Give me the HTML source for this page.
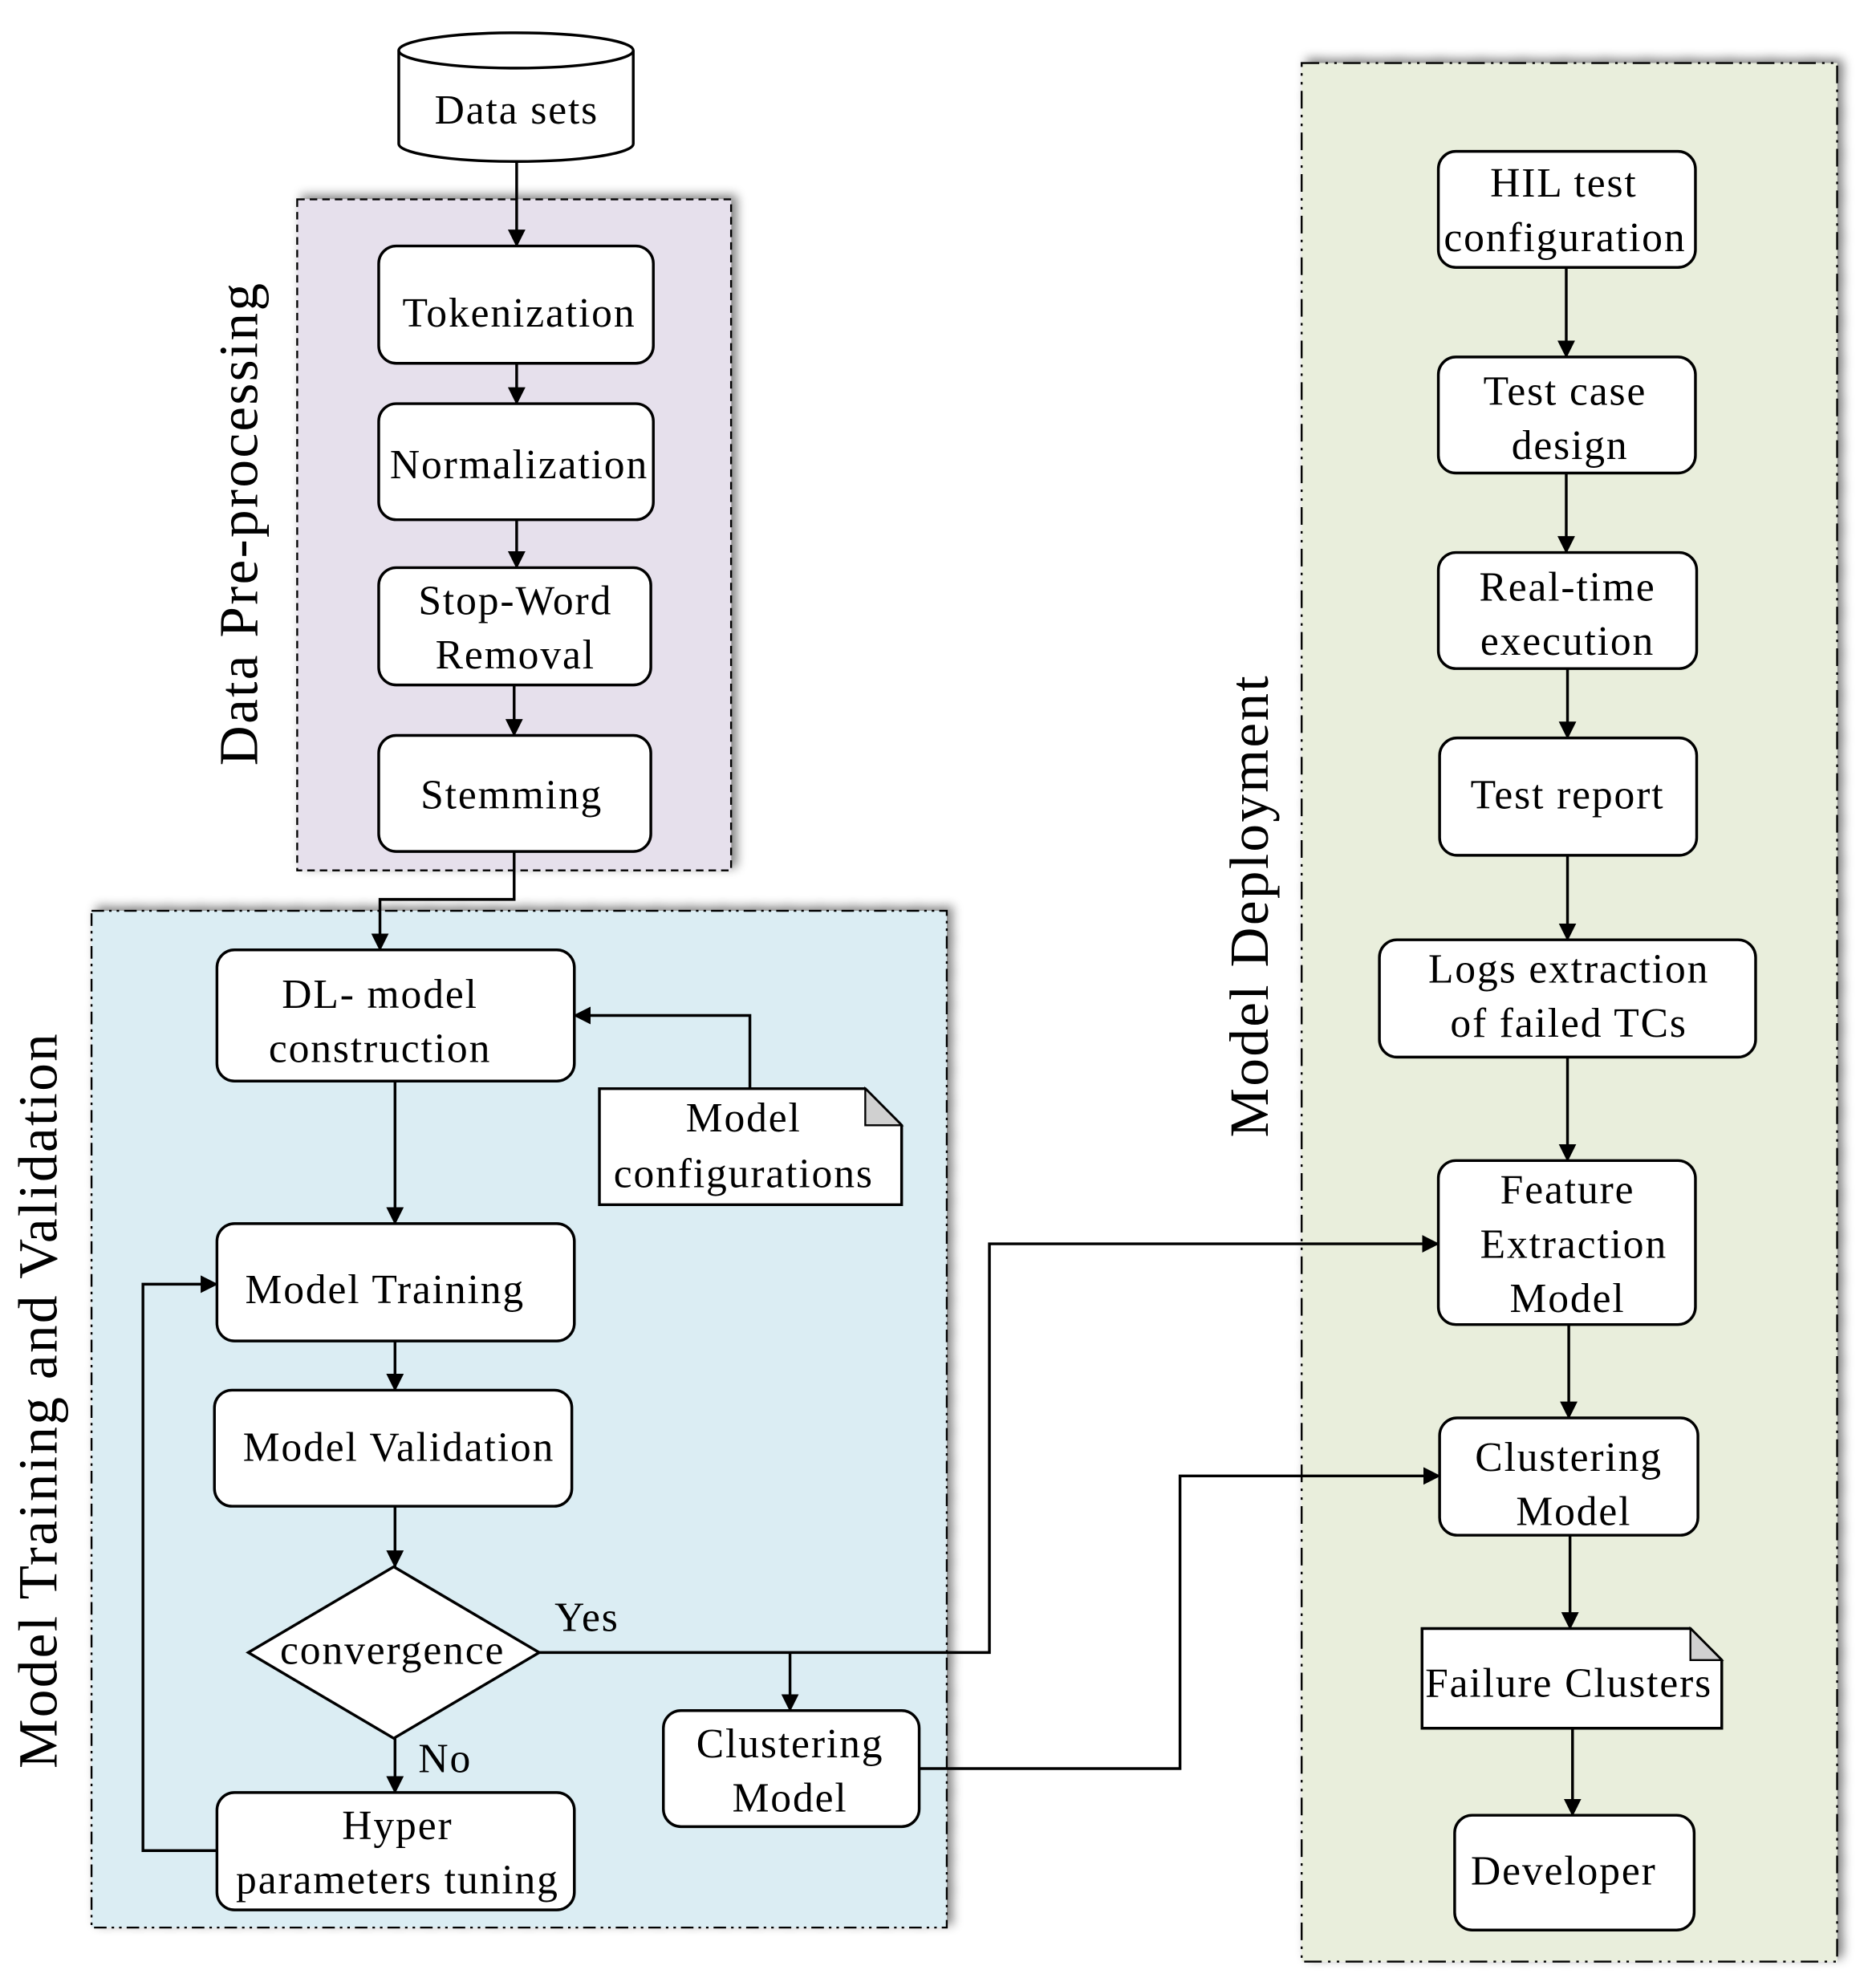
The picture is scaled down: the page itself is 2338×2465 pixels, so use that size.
<!DOCTYPE html>
<html><head><meta charset="utf-8"><style>
html,body{margin:0;padding:0;background:#fff;}
svg{display:block;}
text{font-family:"Liberation Serif",serif;font-size:33px;letter-spacing:1.2px;fill:#000;text-anchor:middle;}
.big{font-size:44px;letter-spacing:1.5px;}
</style></head><body>
<svg width="2338" height="2465" viewBox="0 0 1496 1568" preserveAspectRatio="none" xmlns="http://www.w3.org/2000/svg">
<defs>
<marker id="a" markerWidth="14" markerHeight="14" refX="13" refY="7" orient="auto" markerUnits="userSpaceOnUse" viewBox="0 0 14 14">
<path d="M0,0 L14,7 L0,14 z" fill="#000"/></marker>
<filter id="sh" x="-5%" y="-5%" width="115%" height="115%"><feGaussianBlur in="SourceAlpha" stdDeviation="4"/><feOffset dx="4" dy="-3"/><feComponentTransfer><feFuncA type="linear" slope="0.5"/></feComponentTransfer><feMerge><feMergeNode/><feMergeNode in="SourceGraphic"/></feMerge></filter>
</defs>
<rect x="237" y="158" width="346" height="532" fill="#e6e0ec" stroke="#000" stroke-width="1.5" stroke-dasharray="6,4" filter="url(#sh)"/>
<rect x="73" y="722" width="682" height="806" fill="#dbedf3" stroke="#000" stroke-width="1.5" stroke-dasharray="10,4,2,4,2,4" filter="url(#sh)"/>
<rect x="1038" y="50" width="427" height="1505" fill="#e9eedc" stroke="#000" stroke-width="1.5" stroke-dasharray="14,5,2,5,2,5" filter="url(#sh)"/>

<text class="big" transform="translate(205,415) rotate(-90)">Data Pre-processing</text>
<text class="big" transform="translate(45,1110) rotate(-90)">Model Training and Validation</text>
<text class="big" transform="translate(1011,718) rotate(-90)">Model Deployment</text>

<g fill="#fff" stroke="#000" stroke-width="2.2">
<path d="M318,40 L318,114 A93.5,14 0 0 0 505,114 L505,40"/>
<ellipse cx="411.5" cy="40" rx="93.5" ry="14"/>
<rect x="302" y="195" width="219" height="93" rx="14"/>
<rect x="302" y="320" width="219" height="92" rx="14"/>
<rect x="302" y="450" width="217" height="93" rx="14"/>
<rect x="302" y="583" width="217" height="92" rx="14"/>
<rect x="173" y="753" width="285" height="104" rx="14"/>
<path d="M478,863 L690,863 L719,892 L719,955 L478,955 Z"/>
<rect x="173" y="970" width="285" height="93" rx="14"/>
<rect x="171" y="1102" width="285" height="92" rx="14"/>
<path d="M314,1242 L430,1310 L314,1378 L198,1310 Z"/>
<rect x="173" y="1421" width="285" height="93" rx="14"/>
<rect x="529" y="1356" width="204" height="92" rx="14"/>
<rect x="1147" y="120" width="205" height="92" rx="14"/>
<rect x="1147" y="283" width="205" height="92" rx="14"/>
<rect x="1147" y="438" width="206" height="92" rx="14"/>
<rect x="1148" y="585" width="205" height="93" rx="14"/>
<rect x="1100" y="745" width="300" height="93" rx="14"/>
<rect x="1147" y="920" width="205" height="130" rx="14"/>
<rect x="1148" y="1124" width="206" height="93" rx="14"/>
<path d="M1134,1291 L1348,1291 L1373,1316 L1373,1370 L1134,1370 Z"/>
<rect x="1160" y="1439" width="191" height="91" rx="14"/>
</g>
<g fill="#d0d0d0" stroke="#000" stroke-width="1.5">
<path d="M690,863 L690,892 L719,892 Z"/>
<path d="M1348,1291 L1348,1316 L1373,1316 Z"/>
</g>

<g fill="none" stroke="#000" stroke-width="2.2" marker-end="url(#a)">
<path d="M412,128 V195"/>
<path d="M412,288 V320"/>
<path d="M412,412 V450"/>
<path d="M410,543 V583"/>
<path d="M410,675 V713 H303 V753"/>
<path d="M598,863 V805 H458"/>
<path d="M315,857 V970"/>
<path d="M315,1063 V1102"/>
<path d="M315,1194 V1242"/>
<path d="M315,1378 V1421"/>
<path d="M173,1467 H114 V1018 H173"/>
<path d="M430,1310 H789 V986 H1147"/>
<path d="M630,1310 V1356"/>
<path d="M733,1402 H941 V1170 H1148"/>
<path d="M1249,212 V283"/>
<path d="M1249,375 V438"/>
<path d="M1250,530 V585"/>
<path d="M1250,678 V745"/>
<path d="M1250,838 V920"/>
<path d="M1251,1050 V1124"/>
<path d="M1252,1217 V1291"/>
<path d="M1254,1370 V1439"/>
</g>

<text x="412" y="98">Data sets</text>
<text x="414" y="259">Tokenization</text>
<text x="414" y="379">Normalization</text>
<text x="411" y="487">Stop-Word</text>
<text x="411" y="530">Removal</text>
<text x="408" y="641">Stemming</text>
<text x="303" y="799">DL- model</text>
<text x="303" y="842">construction</text>
<text x="593" y="897">Model</text>
<text x="593" y="941">configurations</text>
<text x="307" y="1033">Model Training</text>
<text x="318" y="1158">Model Validation</text>
<text x="313" y="1319">convergence</text>
<text x="468" y="1293">Yes</text>
<text x="355" y="1405">No</text>
<text x="317" y="1458">Hyper</text>
<text x="317" y="1501">parameters tuning</text>
<text x="630" y="1393">Clustering</text>
<text x="630" y="1436">Model</text>
<text x="1247" y="156">HIL test</text>
<text x="1248" y="199">configuration</text>
<text x="1248" y="321">Test case</text>
<text x="1252" y="364">design</text>
<text x="1250" y="476">Real-time</text>
<text x="1250" y="519">execution</text>
<text x="1250" y="641">Test report</text>
<text x="1251" y="779">Logs extraction</text>
<text x="1251" y="822">of failed  TCs</text>
<text x="1250" y="954">Feature</text>
<text x="1255" y="997">Extraction</text>
<text x="1250" y="1040">Model</text>
<text x="1251" y="1166">Clustering</text>
<text x="1255" y="1209">Model</text>
<text x="1251" y="1345">Failure  Clusters</text>
<text x="1247" y="1494">Developer</text>
</svg>
</body></html>
